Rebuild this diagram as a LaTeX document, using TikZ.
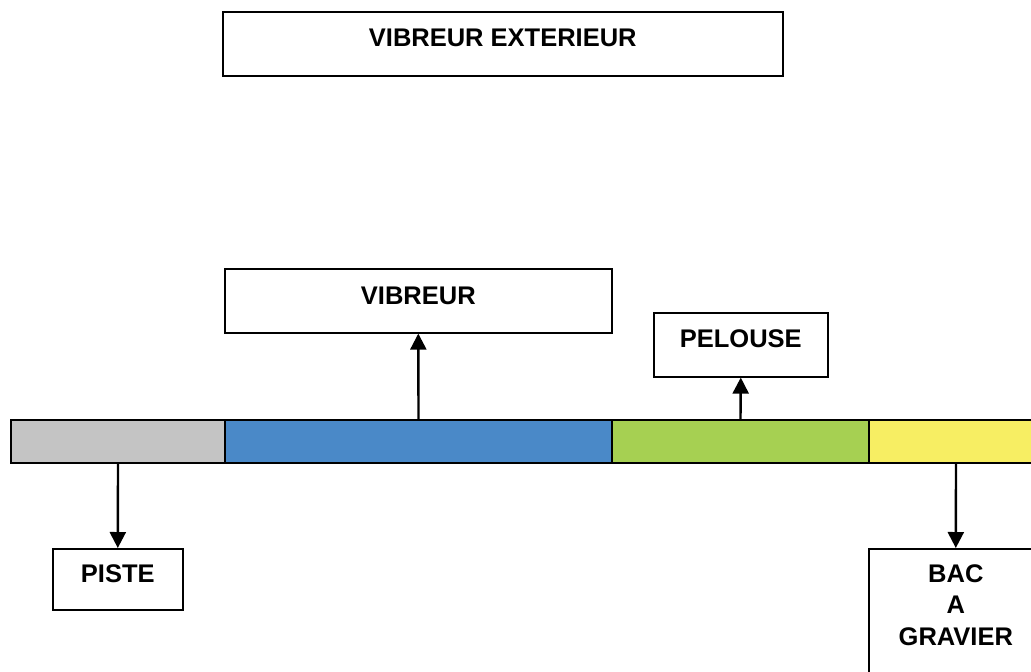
\documentclass[tikz,border=0pt]{standalone}
\usepackage{fontspec}
\setmainfont{Liberation Sans}
\usetikzlibrary{arrows.meta}
\definecolor{pistegray}{HTML}{C4C4C4}
\definecolor{vibblue}{HTML}{4A89C8}
\definecolor{lawngreen}{HTML}{A6D052}
\definecolor{gravelyellow}{HTML}{F7EE63}
\begin{document}
\begin{tikzpicture}[x=1pt,y=-1pt,
  frame/.style={draw=black, line width=1.6pt, fill=white, inner sep=0pt, anchor=north west},
  band/.style={draw=black, line width=2pt, inner sep=0pt, minimum height=43pt, anchor=north west},
  caption/.style={font=\bfseries\fontsize{25.5}{31.5}\selectfont, inner sep=0pt, align=center},
  link/.style={line width=2.4pt, -{Triangle[length=16pt,width=16pt]}}]
\useasboundingbox (0,0) rectangle (1031,672);

% coloured strip
\node[band, fill=pistegray,    minimum width=214pt] (track)  at (10,419)  {};
\node[band, fill=vibblue,      minimum width=387pt] (kerb)   at (224,419) {};
\node[band, fill=lawngreen,    minimum width=257pt] (grass)  at (611,419) {};
\node[band, fill=gravelyellow, minimum width=174pt] (gravel) at (868,419) {};

% label boxes
\node[frame, minimum width=560pt, minimum height=64pt] (outer)  at (222,11)  {};
\node[frame, minimum width=387pt, minimum height=64pt] (vib)    at (224,268) {};
\node[frame, minimum width=174pt, minimum height=64pt] (pel)    at (653,312) {};
\node[frame, minimum width=130pt, minimum height=61pt] (piste)  at (52,548)  {};
\node[frame, minimum width=174pt, minimum height=140pt] (bac)   at (868,548) {};

% captions
\node[caption, anchor=base] (outertxt) at (outer.north |- 0,46)  {VIBREUR EXTERIEUR};
\node[caption, anchor=base] (vibtxt)   at (vib.north |- 0,304)   {VIBREUR};
\node[caption, anchor=base] (peltxt)   at (pel.north |- 0,347)   {PELOUSE};
\node[caption, anchor=base] (pistetxt) at (piste.north |- 0,582) {PISTE};
\node[caption, anchor=north] (bactxt)  at (bac.north |- 0,564)   {BAC\\A\\GRAVIER};

% connectors
\draw[link] (kerb.north)  -- (vib.south);
\draw[link] (grass.north) -- (pel.south);
\draw[link] (track.south) -- (piste.north);
\draw[link] (gravel.south) -- (bac.north);
\end{tikzpicture}
\end{document}
